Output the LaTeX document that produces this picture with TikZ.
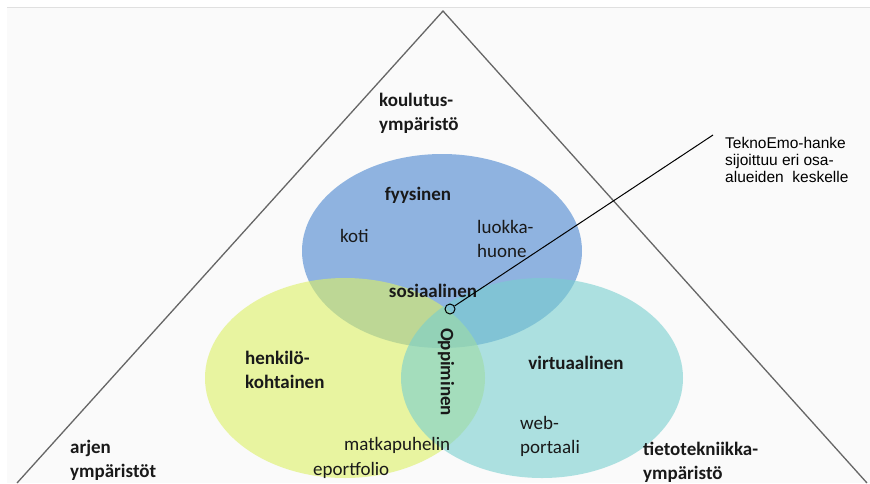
\documentclass[tikz,border=0pt]{standalone}
\usepackage{fontspec}
\setmainfont{Carlito}
\newfontfamily\arialfont{Liberation Sans}
\definecolor{fyysblue}{RGB}{72,133,207}
\definecolor{henkyellow}{RGB}{220,240,100}
\definecolor{virtcyan}{RGB}{120,207,207}
\definecolor{paper}{RGB}{250,250,250}
\tikzset{
  area/.style={fill opacity=0.6},
  word/.style={font=\fontsize{19}{23.5}\selectfont, align=left, inner sep=0pt, text=black!90},
  title/.style={word, font=\fontsize{19}{23.5}\selectfont\bfseries},
  note/.style={font=\arialfont\fontsize{15.5}{17}\selectfont, align=left, inner sep=0pt},
}
\begin{document}
\begin{tikzpicture}[x=1pt, y=-1pt]
    \useasboundingbox (0, 0) rectangle (870, 483);
    \fill [paper] (7, 7) rectangle (870, 483);
    \draw [black!12, line width=1pt] (7, 7) -- (870, 7);
    % kolmio
    \draw [black!60, line width=1.3pt] (17, 483) -- (443, 11) -- (867, 483);
    % alueet
    \fill [fyysblue, area] (442, 251) ellipse [x radius=140, y radius=97];
    \fill [henkyellow, area] (345, 378) ellipse [x radius=140, y radius=100];
    \fill [virtcyan, area] (542, 378) ellipse [x radius=141, y radius=100];
    % tekstit (monirivisillä base = viimeisen rivin pohjaviiva)
    \node [title, anchor=base west] (koulutus) at (379, 130) {koulutus-\\ympäristö};
    \node [title, anchor=base] (fyysinen) at (418, 200) {fyysinen};
    \node [word, anchor=base west] (koti) at (340, 242) {koti};
    \node [word, anchor=base west] (luokka) at (477, 257) {luokka-\\huone};
    \node [title, anchor=base] (sosiaalinen) at (433, 297) {sosiaalinen};
    \node [title, anchor=base west] (henkilo) at (245, 388) {henkilö-\\kohtainen};
    \node [title, anchor=base] (virtuaalinen) at (576, 369) {virtuaalinen};
    \node [title, rotate=-90] (oppiminen) at (446, 372) {Oppiminen};
    \node [word, anchor=base west] (web) at (520, 453) {web-\\portaali};
    \node [word, anchor=base west] (matkapuhelin) at (344, 450) {matkapuhelin};
    \node [word, anchor=base west] (eportfolio) at (313, 475) {eportfolio};
    \node [title, anchor=base west] (arjen) at (70, 477) {arjen\\ympäristöt};
    \node [title, anchor=base west] (tietotekniikka) at (643, 479) {tietotekniikka-\\ympäristö};
    \node [note, anchor=base west] (teknoemo) at (725, 182) {TeknoEmo-hanke\\sijoittuu eri osa-\\alueiden\ \ keskelle};
    % keskipiste
    \node [circle, draw, line width=1pt, minimum size=10pt, inner sep=0pt] (keskus) at (450, 309) {};
    \coordinate (kulma) at (713, 135);
    \draw [line width=1pt] (keskus) -- (kulma);
\end{tikzpicture}
\end{document}
